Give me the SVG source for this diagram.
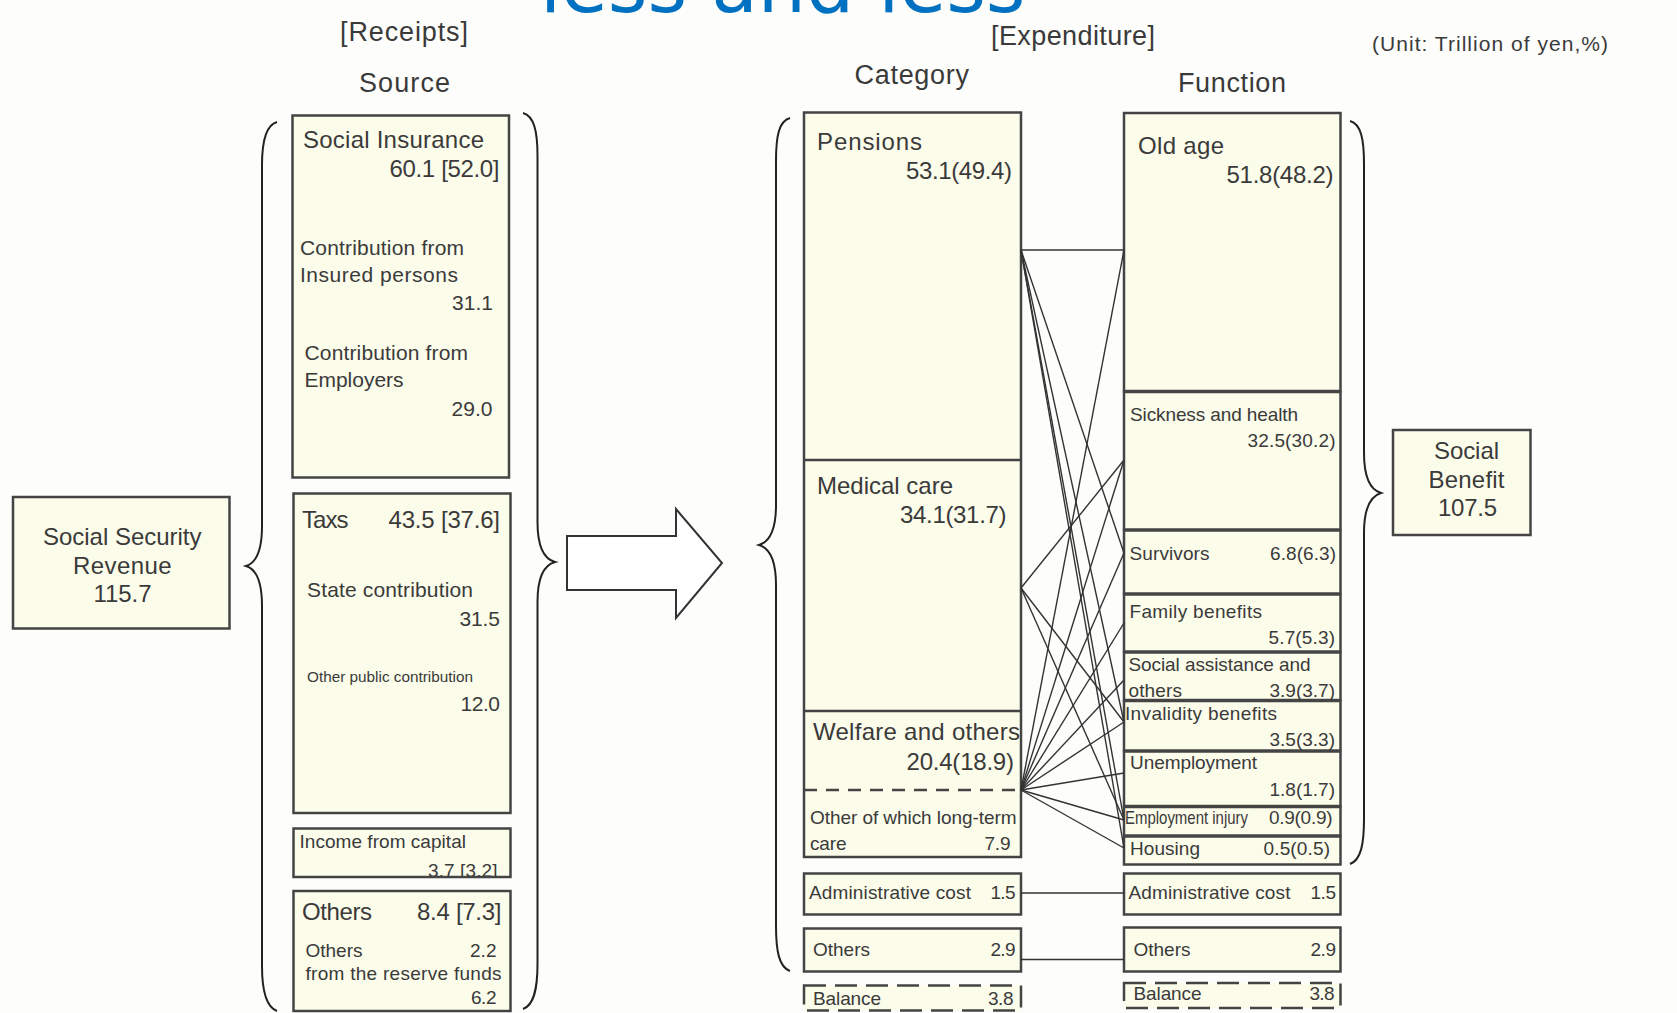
<svg xmlns="http://www.w3.org/2000/svg" width="1677" height="1013" viewBox="0 0 1677 1013">
<defs>
<style>
.bg{fill:#fdfdfb}
.box{fill:#fcfcea;stroke:#444;stroke-width:2.5}
.dbox{fill:#fcfcea;stroke:#444;stroke-width:2.5;stroke-dasharray:22 9}
.div{stroke:#444;stroke-width:2.5;fill:none}
.dash{stroke:#444;stroke-width:2.5;fill:none;stroke-dasharray:13 9}
.brace{fill:none;stroke:#222;stroke-width:2}
.ln{stroke:#333;stroke-width:1.4;fill:none}
.arrow{fill:#fff;stroke:#333;stroke-width:2}
text{font-family:"Liberation Sans",Arial,sans-serif;fill:#3a3a3a}
.h{font-size:27px}
.b{font-size:24px}
.m{font-size:21px}
.s{font-size:19px}
.xs{font-size:15px}
.title{font-family:"DejaVu Sans",Verdana,sans-serif;font-size:76px;fill:#0070c0}
</style>
<clipPath id="incClip"><rect x="294" y="829" width="215" height="47"/></clipPath>
</defs>
<rect class="bg" x="0" y="0" width="1677" height="1013"/>

<text class="title" x="540" y="11.5">less and less</text>

<g id="headers">
<text class="h" x="340" y="41" textLength="128">[Receipts]</text>
<text class="h" x="359" y="92" textLength="91">Source</text>
<text class="h" x="991" y="45" textLength="164">[Expenditure]</text>
<text class="h" x="854.5" y="84" textLength="114.5">Category</text>
<text class="h" x="1178" y="91.5" textLength="108">Function</text>
<text class="m" x="1372" y="51" textLength="236">(Unit: Trillion of yen,%)</text>
</g>

<g id="braces">
<path class="brace" d="M277,122 C266,125 262,140 262,165 L262,526 C262,552 256,563 246,566 C256,569 262,580 262,606 L262,966 C262,991 266,1007 277,1011"/>
<path class="brace" d="M523,113 C534,116 537.5,131 537.5,156 L537.5,522 C537.5,548 544,559 555,562 C544,565 537.5,576 537.5,602 L537.5,964 C537.5,989 534,1005 523,1009"/>
<path class="brace" d="M790,118 C779,121 776,136 776,161 L776,505 C776,531 769,542 759,545 C769,548 776,559 776,585 L776,926 C776,951 779,967 790,971"/>
<path class="brace" d="M1350,121 C1361,124 1364,139 1364,164 L1364,453 C1364,479 1371,490 1381,493 C1371,496 1364,507 1364,533 L1364,819 C1364,844 1361,860 1350,864"/>
</g>

<g id="arrow">
<polygon class="arrow" points="567,536 676,536 676,509 722,563 676,618 676,590 567,590"/>
</g>

<g id="ssr">
<rect class="box" x="13" y="497" width="216.5" height="131.5"/>
<text class="b" x="43" y="545" textLength="158.5">Social Security</text>
<text class="b" x="73" y="574" textLength="98.5">Revenue</text>
<text class="b" x="93.5" y="602" textLength="58">115.7</text>
</g>

<g id="social-insurance">
<rect class="box" x="292.5" y="115.5" width="216.5" height="362"/>
<text class="b" x="303" y="147.5" textLength="181">Social Insurance</text>
<text class="b" x="389.5" y="177" textLength="110">60.1 [52.0]</text>
<text class="m" x="300" y="254.5" textLength="164">Contribution from</text>
<text class="m" x="300" y="281.5" textLength="158">Insured persons</text>
<text class="m" x="452" y="310" textLength="41">31.1</text>
<text class="m" x="304.5" y="360" textLength="163.5">Contribution from</text>
<text class="m" x="304.5" y="387" textLength="99">Employers</text>
<text class="m" x="451.5" y="416" textLength="41">29.0</text>
</g>

<g id="taxs">
<rect class="box" x="293.5" y="493.5" width="217" height="319.5"/>
<text class="b" x="302" y="528" textLength="46.5">Taxs</text>
<text class="b" x="388.5" y="528" textLength="111.5">43.5 [37.6]</text>
<text class="m" x="307" y="597" textLength="166">State contribution</text>
<text class="m" x="459.5" y="625.5" textLength="40.5">31.5</text>
<text class="xs" x="307" y="682" textLength="166" lengthAdjust="spacingAndGlyphs">Other public contribution</text>
<text class="m" x="460.5" y="711" textLength="39.5">12.0</text>
</g>

<g id="income-capital">
<rect class="box" x="293.5" y="828.5" width="217" height="48.5"/>
<text class="s" x="299.5" y="848" textLength="166.5">Income from capital</text>
<g clip-path="url(#incClip)"><text class="s" x="428" y="877" textLength="69.5">3.7 [3.2]</text></g>
</g>

<g id="others-receipts">
<rect class="box" x="293.5" y="891" width="217" height="120"/>
<text class="b" x="302" y="920" textLength="70">Others</text>
<text class="b" x="417" y="920" textLength="84.5">8.4 [7.3]</text>
<text class="s" x="305.5" y="957" textLength="57">Others</text>
<text class="s" x="470" y="957" textLength="26.5">2.2</text>
<text class="s" x="305.5" y="980" textLength="196">from the reserve funds</text>
<text class="s" x="471" y="1004" textLength="25.5">6.2</text>
</g>

<g id="category">
<rect class="box" x="804" y="112.5" width="217" height="744.5"/>
<line class="div" x1="804" y1="460" x2="1021" y2="460"/>
<line class="div" x1="804" y1="711" x2="1021" y2="711"/>
<line class="dash" x1="804" y1="790" x2="1021" y2="790"/>
<text class="b" x="817" y="150" textLength="105">Pensions</text>
<text class="b" x="906" y="178.5" textLength="106">53.1(49.4)</text>
<text class="b" x="817" y="494" textLength="136">Medical care</text>
<text class="b" x="900" y="523" textLength="106.5">34.1(31.7)</text>
<text class="b" x="813" y="739.5" textLength="207">Welfare and others</text>
<text class="b" x="906.5" y="769.5" textLength="107.5">20.4(18.9)</text>
<text class="s" x="810" y="823.5" textLength="206.5">Other of which long-term</text>
<text class="s" x="810" y="849.5" textLength="36.5">care</text>
<text class="s" x="984.5" y="849.5" textLength="26">7.9</text>
</g>

<g id="cat-admin">
<rect class="box" x="804" y="873.5" width="217" height="41"/>
<text class="s" x="809" y="898.5" textLength="162">Administrative cost</text>
<text class="s" x="990.5" y="898.5" textLength="25">1.5</text>
</g>
<g id="cat-others">
<rect class="box" x="804" y="928.5" width="217" height="43"/>
<text class="s" x="813" y="955.5" textLength="57">Others</text>
<text class="s" x="990.5" y="955.5" textLength="25">2.9</text>
</g>
<g id="cat-balance">
<rect class="dbox" x="804" y="985.5" width="217" height="25"/>
<text class="s" x="813" y="1005" textLength="68">Balance</text>
<text class="s" x="988" y="1005" textLength="25.5">3.8</text>
</g>

<g id="fn-old-age">
<rect class="box" x="1124" y="113" width="216.5" height="278"/>
<text class="b" x="1138" y="154" textLength="86">Old age</text>
<text class="b" x="1226.5" y="182.5" textLength="107">51.8(48.2)</text>
</g>
<g id="fn-sickness">
<rect class="box" x="1124" y="392" width="216.5" height="137.5"/>
<text class="s" x="1130" y="421" textLength="168">Sickness and health</text>
<text class="s" x="1247.5" y="447" textLength="88">32.5(30.2)</text>
</g>
<g id="fn-survivors">
<rect class="box" x="1124" y="530.5" width="216.5" height="63"/>
<text class="s" x="1129.5" y="560" textLength="80">Survivors</text>
<text class="s" x="1270" y="560" textLength="66">6.8(6.3)</text>
</g>
<g id="fn-family">
<rect class="box" x="1124" y="594.5" width="216.5" height="57"/>
<text class="s" x="1129.5" y="618" textLength="132.5">Family benefits</text>
<text class="s" x="1268.5" y="644" textLength="66.5">5.7(5.3)</text>
</g>
<g id="fn-social-assistance">
<rect class="box" x="1124" y="652.5" width="216.5" height="47.5"/>
<text class="s" x="1128.5" y="671" textLength="182">Social assistance and</text>
<text class="s" x="1128.5" y="697" textLength="53.5">others</text>
<text class="s" x="1269.5" y="697" textLength="65.5">3.9(3.7)</text>
</g>
<g id="fn-invalidity">
<rect class="box" x="1124" y="701" width="216.5" height="49.5"/>
<text class="s" x="1125" y="720" textLength="152">Invalidity benefits</text>
<text class="s" x="1269.5" y="746" textLength="65.5">3.5(3.3)</text>
</g>
<g id="fn-unemployment">
<rect class="box" x="1124" y="751.5" width="216.5" height="54.5"/>
<text class="s" x="1130" y="769" textLength="127">Unemployment</text>
<text class="s" x="1269.5" y="795.5" textLength="65.5">1.8(1.7)</text>
</g>
<g id="fn-employment-injury">
<rect class="box" x="1124" y="807" width="216.5" height="28.5"/>
<text class="s" x="1125" y="824" textLength="123" lengthAdjust="spacingAndGlyphs">Employment injury</text>
<text class="s" x="1269" y="824" textLength="63.5">0.9(0.9)</text>
</g>
<g id="fn-housing">
<rect class="box" x="1124" y="836.5" width="216.5" height="28"/>
<text class="s" x="1130" y="855" textLength="70">Housing</text>
<text class="s" x="1263.5" y="855" textLength="66.5">0.5(0.5)</text>
</g>
<g id="fn-admin">
<rect class="box" x="1124" y="873.5" width="216.5" height="41"/>
<text class="s" x="1128.5" y="899" textLength="162">Administrative cost</text>
<text class="s" x="1310.5" y="899" textLength="25.5">1.5</text>
</g>
<g id="fn-others">
<rect class="box" x="1124" y="927.5" width="216.5" height="44"/>
<text class="s" x="1133.5" y="956" textLength="57">Others</text>
<text class="s" x="1310.5" y="956" textLength="25.5">2.9</text>
</g>
<g id="fn-balance">
<rect class="dbox" x="1124" y="983" width="216.5" height="25"/>
<text class="s" x="1133.5" y="1000" textLength="68">Balance</text>
<text class="s" x="1309.5" y="1000" textLength="25">3.8</text>
</g>

<g id="social-benefit">
<rect class="box" x="1393" y="430" width="137.5" height="105"/>
<text class="b" x="1434" y="459" textLength="65">Social</text>
<text class="b" x="1428.5" y="487.5" textLength="76">Benefit</text>
<text class="b" x="1438" y="516" textLength="59">107.5</text>
</g>

<g id="connectors">
<line class="ln" x1="1021" y1="250" x2="1124" y2="250"/>
<line class="ln" x1="1021" y1="250" x2="1124" y2="553"/>
<line class="ln" x1="1021" y1="250" x2="1124" y2="722"/>
<line class="ln" x1="1021" y1="250" x2="1124" y2="820"/>
<line class="ln" x1="1021" y1="250" x2="1124" y2="848"/>
<line class="ln" x1="1021" y1="588" x2="1124" y2="460"/>
<line class="ln" x1="1021" y1="588" x2="1124" y2="722"/>
<line class="ln" x1="1021" y1="588" x2="1124" y2="820"/>
<line class="ln" x1="1021" y1="790" x2="1124" y2="250"/>
<line class="ln" x1="1021" y1="790" x2="1124" y2="460"/>
<line class="ln" x1="1021" y1="790" x2="1124" y2="553"/>
<line class="ln" x1="1021" y1="790" x2="1124" y2="623"/>
<line class="ln" x1="1021" y1="790" x2="1124" y2="680"/>
<line class="ln" x1="1021" y1="790" x2="1124" y2="722"/>
<line class="ln" x1="1021" y1="790" x2="1124" y2="773"/>
<line class="ln" x1="1021" y1="790" x2="1124" y2="820"/>
<line class="ln" x1="1021" y1="790" x2="1124" y2="848"/>
<line class="ln" x1="1021" y1="893" x2="1124" y2="893"/>
<line class="ln" x1="1021" y1="959.5" x2="1124" y2="959.5"/>
</g>
</svg>
